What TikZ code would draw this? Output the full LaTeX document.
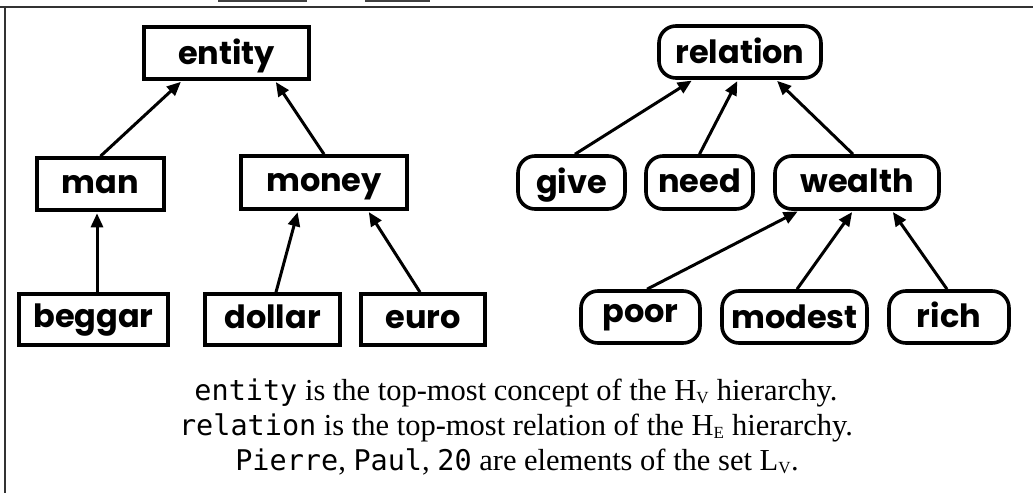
\documentclass[tikz,border=0pt]{standalone}
\usepackage{fontspec}
\setmainfont{Liberation Serif}
\setmonofont{DejaVu Sans Mono}
\newfontfamily\nodefont{Poppins}
\usetikzlibrary{arrows.meta}
\tikzset{
  box/.style={draw=black, line width=3.6pt, inner sep=0pt, align=center,
    text height=18pt, text depth=0pt,
    font=\nodefont\fontsize{32}{34}\selectfont\bfseries},
  sqbox/.style={box},
  rbox/.style={box, rounded corners=17pt},
  arr/.style={line width=3pt, -{Triangle[length=14pt,width=12pt]}, shorten >=1.5pt},
  caption/.style={anchor=base, inner sep=0pt, font=\fontsize{30.5}{34}\selectfont},
  frame/.style={draw=black!80, line width=1.6pt}
}
\newcommand{\sbs}[1]{\textsubscript{\fontsize{17}{17}\selectfont #1}}
\newcommand{\mono}[1]{{\fontsize{28.5}{34}\selectfont\ttfamily #1}}
\begin{document}
\begin{tikzpicture}[x=1pt,y=-1pt]
\useasboundingbox (0,0) rectangle (1034,493);
% frame
\coordinate (ftl) at (5,7);
\coordinate (ftr) at (1033,7);
\coordinate (fl) at (0,7);
\coordinate (fbl) at (5,493);
\draw[frame] (fl) -- (ftr);
\draw[frame] (ftl) -- (fbl);
% cut-off fragments at top
\coordinate (c1a) at (218,0.5); \coordinate (c1b) at (307,0.5);
\coordinate (c2a) at (365,0.5); \coordinate (c2b) at (430,0.5);
\draw[line width=2pt, black!75] (c1a) -- (c1b);
\draw[line width=2pt, black!75] (c2a) -- (c2b);
% left hierarchy
\node[sqbox, minimum width=165pt, minimum height=52pt, text height=22pt] (entity) at (226.5,53) {entity};
\node[sqbox, minimum width=127pt, minimum height=52pt] (man) at (100.5,184) {man};
\node[sqbox, minimum width=166pt, minimum height=53pt] (money) at (324,182.5) {money};
\node[sqbox, minimum width=149pt, minimum height=51pt, text height=16pt] (beggar) at (93.5,319.5) {beggar};
\node[sqbox, minimum width=135pt, minimum height=51pt] (dollar) at (272.5,319.5) {dollar};
\node[sqbox, minimum width=124pt, minimum height=51pt] (euro) at (423,319.5) {euro};
% right hierarchy
\node[rbox, minimum width=162pt, minimum height=52pt, text height=22pt] (relation) at (740,52) {relation};
\node[rbox, minimum width=107pt, minimum height=53pt, text height=21pt] (give) at (571.5,182.5) {give};
\node[rbox, minimum width=107pt, minimum height=53pt, text height=20pt] (need) at (699.5,182.5) {need};
\node[rbox, minimum width=164pt, minimum height=53pt, text height=20pt] (wealth) at (857,182.5) {wealth};
\node[rbox, minimum width=119pt, minimum height=52pt, text height=10pt] (poor) at (640.5,317) {poor};
\node[rbox, minimum width=145pt, minimum height=52pt, text height=22pt] (modest) at (794.5,317) {modest};
\node[rbox, minimum width=120pt, minimum height=52pt, text height=20pt] (rich) at (949,317) {rich};
% arrows
\draw[arr] (man.north) -- ([xshift=-44.5pt]entity.south);
\draw[arr] (money.north) -- ([xshift=48.5pt]entity.south);
\draw[arr] ([xshift=3.5pt]beggar.north) -- ([xshift=-3.5pt]man.south);
\draw[arr] ([xshift=3.5pt]dollar.north) -- ([xshift=-26pt]money.south);
\draw[arr] ([xshift=-3pt]euro.north) -- ([xshift=44pt]money.south);
\draw[arr] ([xshift=3.5pt]give.north) -- ([xshift=-47pt]relation.south);
\draw[arr] (need.north) -- ([xshift=-2pt]relation.south);
\draw[arr] ([xshift=-4pt]wealth.north) -- ([xshift=36pt]relation.south);
\draw[arr] ([xshift=6.5pt]poor.north) -- ([xshift=-58pt]wealth.south);
\draw[arr] ([xshift=2.5pt]modest.north) -- ([xshift=-4pt]wealth.south);
\draw[arr] ([xshift=-2pt]rich.north) -- ([xshift=35pt]wealth.south);
% caption
\node[caption] (t1) at (516,400) {\mono{entity} is the top-most concept of the H\sbs{V} hierarchy.};
\node[caption] (t2) at (516,435) {\mono{relation} is the top-most relation of the H\sbs{E} hierarchy.};
\node[caption] (t3) at (517,470) {\mono{Pierre}, \mono{Paul}, \mono{20} are elements of the set L\sbs{V}.};
\end{tikzpicture}
\end{document}
